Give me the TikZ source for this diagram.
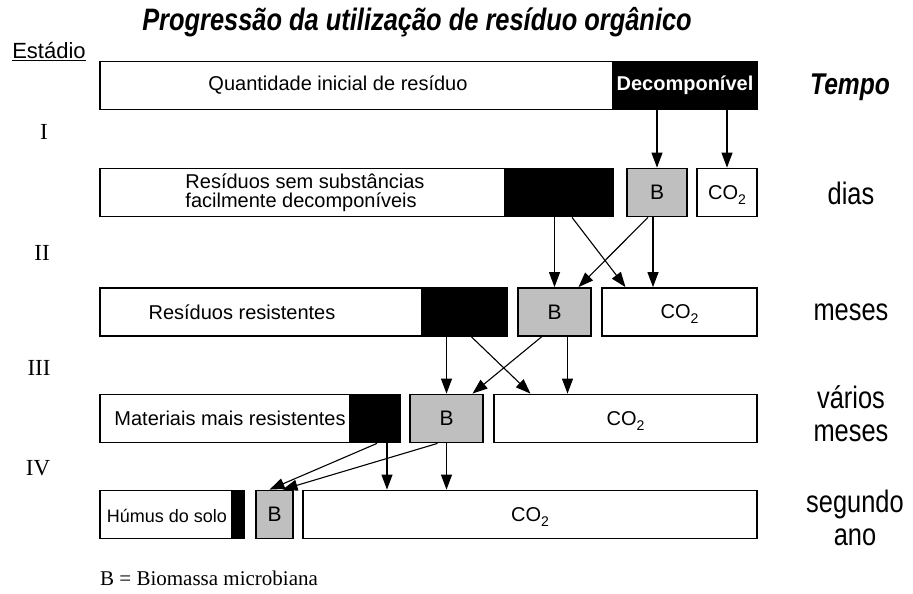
\documentclass[tikz,border=0pt]{standalone}
\usepackage{fontspec}
\setmainfont{Liberation Serif}
\setsansfont{Liberation Sans}
\newfontfamily\narrowfont[FakeStretch=0.82]{Liberation Sans}
\usetikzlibrary{arrows.meta}
\newcommand{\cotwo}{CO\raisebox{-5pt}[0pt][0pt]{\fontsize{14}{14}\selectfont 2}}

\begin{document}
\begin{tikzpicture}[x=1pt,y=-1pt,
  wbox/.style={draw,line width=1.8pt,minimum height=48pt,inner sep=0pt,fill=white},
  kbox/.style={wbox,fill=black},
  bbox/.style={wbox,fill=black!25,font=\sffamily\fontsize{21}{21}\selectfont},
  cbox/.style={wbox,font=\sffamily\fontsize{20}{20}\selectfont},
  txt/.style={inner sep=0pt,font=\sffamily\fontsize{20}{19}\selectfont},
  tempo/.style={inner sep=0pt,align=center,font=\narrowfont\fontsize{31}{33}\selectfont},
  num/.style={inner sep=0pt,font=\fontsize{23}{23}\selectfont},
  arr/.style={-{Triangle[length=15pt,width=11pt]},line width=1.1pt}]
\useasboundingbox (0,0) rectangle (913,594);

\node[font=\narrowfont\bfseries\itshape\fontsize{31}{31}\selectfont] (titulo) at (417,22) {Progressão da utilização de resíduo orgânico};
\node[inner sep=0pt,font=\sffamily\fontsize{22}{22}\selectfont] (estadio) at (49,52) {\underline{Estádio}};

% estadio I
\node[wbox,minimum width=513pt] (w1) at (356.5,85.5) {};
\node[kbox,minimum width=144pt,text=white,font=\sffamily\bfseries\fontsize{20}{20}\selectfont] (k1) at (685,85.5) {Decomponível};
\node[txt] (t1) at (338,85.5) {Quantidade inicial de resíduo};

% estadio II
\node[wbox,minimum width=405pt] (w2) at (302.5,192.5) {};
\node[kbox,minimum width=108pt] (k2) at (559,192.5) {};
\node[bbox,minimum width=60pt] (b2) at (657,192.5) {B};
\node[cbox,minimum width=60pt] (c2) at (727,192.5) {\cotwo};
\node[txt,align=left] (t2) at (305,192.5) {Resíduos sem substâncias\\facilmente decomponíveis};

% estadio III
\node[wbox,minimum width=322pt] (w3) at (261,312) {};
\node[kbox,minimum width=85pt] (k3) at (464.5,312) {};
\node[bbox,minimum width=73pt] (b3) at (554.5,312) {B};
\node[cbox,minimum width=155pt] (c3) at (679.5,312) {\cotwo};
\node[txt] (t3) at (242,312) {Resíduos resistentes};

% estadio IV
\node[wbox,minimum width=250pt] (w4) at (225,418.5) {};
\node[kbox,minimum width=50pt] (k4) at (375,418.5) {};
\node[bbox,minimum width=73pt] (b4) at (446.5,418.5) {B};
\node[cbox,minimum width=263pt] (c4) at (625.5,418.5) {\cotwo};
\node[txt] (t4) at (230,418.5) {Materiais mais resistentes};

% segundo ano
\node[wbox,minimum width=132pt] (w5) at (166,514.5) {};
\node[kbox,minimum width=12pt] (k5) at (238,514.5) {};
\node[bbox,minimum width=37pt] (b5) at (274.5,514.5) {B};
\node[cbox,minimum width=454pt] (c5) at (530,514.5) {\cotwo};
\node[txt,font=\sffamily\fontsize{18}{18}\selectfont] (t5) at (167,516) {Húmus do solo};

% setas
\draw[arr] (b2.north |- k1.south) -- (b2.north);
\draw[arr] (c2.north |- k1.south) -- (c2.north);

\draw[arr] (b3.north |- k2.south) -- (b3.north);
\draw[arr] ([xshift=13pt]k2.south) -- ([xshift=-54pt]c3.north);
\draw[arr] ([xshift=-9pt]b2.south) -- ([xshift=24pt]b3.north);
\coordinate (v2) at ([xshift=-4pt]b2.south);
\draw[arr] (v2) -- (v2 |- c3.north);

\draw[arr] (b4.north |- k3.south) -- (b4.north);
\draw[arr] ([xshift=7pt]k3.south) -- ([xshift=-95pt]c4.north);
\draw[arr] ([xshift=-13pt]b3.south) -- ([xshift=26pt]b4.north);
\coordinate (v3) at ([xshift=13pt]b3.south);
\draw[arr] (v3) -- (v3 |- c4.north);

\draw[arr] ([xshift=2pt]k4.south) -- ([xshift=-5pt]b5.north);
\draw[arr] ([xshift=-9pt]b4.south) -- ([xshift=8pt]b5.north);
\coordinate (v4) at ([xshift=12pt]k4.south);
\draw[arr] (v4) -- (v4 |- c5.north);
\draw[arr] (b4.south) -- (b4.south |- c5.north);

% estadios
\node[num] (n1) at (44,132) {I};
\node[num] (n2) at (42,253) {II};
\node[num] (n3) at (39,368) {III};
\node[num] (n4) at (38,468) {IV};

% tempo
\node[tempo,font=\narrowfont\bfseries\itshape\fontsize{30}{30}\selectfont] (tempo) at (850,87) {Tempo};
\node[tempo] (dias) at (851,193) {dias};
\node[tempo] (meses) at (851,312) {meses};
\node[tempo] (varios) at (851,414) {vários\\meses};
\node[tempo] (ano) at (855,518) {segundo\\ano};

\node[anchor=west,inner sep=0pt,font=\fontsize{21}{21}\selectfont] (legenda) at (100,578) {B = Biomassa microbiana};
\end{tikzpicture}
\end{document}
